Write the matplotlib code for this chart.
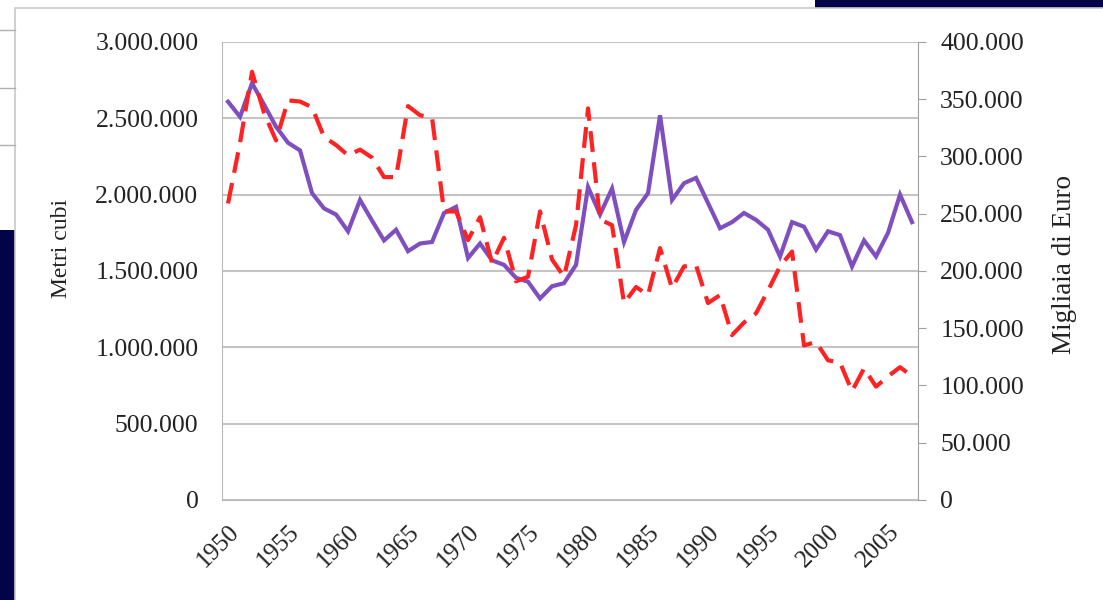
import matplotlib.pyplot as plt
from matplotlib.patches import Rectangle
from matplotlib.ticker import FuncFormatter

# anni 1950-2007
anni = list(range(1950, 2008))

# metri cubi (asse sinistro)
metri_cubi = [
    2609000, 2510000, 2730000, 2590000, 2445000, 2340000, 2290000, 2010000, 1910000, 1870000,
    1760000, 1965000, 1830000, 1700000, 1770000, 1630000, 1680000, 1690000, 1880000, 1920000,
    1585000, 1680000, 1570000, 1540000, 1455000, 1430000, 1320000, 1400000, 1420000, 1540000,
    2050000, 1870000, 2040000, 1690000, 1900000, 2010000, 2520000, 1965000, 2075000, 2110000,
    1945000, 1780000, 1820000, 1880000, 1835000, 1770000, 1595000, 1820000, 1790000, 1640000,
    1760000, 1735000, 1530000, 1700000, 1595000, 1750000, 2000000, 1820000,
]

# migliaia di euro (asse destro)
migliaia_euro = [
    259000, 312000, 374000, 338000, 314000, 349000, 348000, 343000, 317000, 310000,
    301000, 306000, 299000, 282000, 282000, 344000, 336000, 334000, 252000, 252000,
    227000, 247000, 207000, 229000, 191000, 195000, 252000, 210000, 195000, 240000,
    342000, 245000, 240000, 172000, 186000, 179000, 220000, 185000, 204000, 205000,
    172000, 179000, 144000, 155000, 163000, 183000, 204000, 217000, 135000, 138000,
    122000, 120000, 95000, 115000, 99000, 108000, 116000, 108000,
]

etichette_anni = list(range(1950, 2006, 5))


def migliaia(v, pos):
    return f"{int(round(v)):,}".replace(",", ".")


plt.rcParams['font.family'] = ['Liberation Serif', 'DejaVu Serif']

fig = plt.figure(figsize=(11.03, 6.0), dpi=100)
fig.patch.set_facecolor('white')

# sfondo della slide
navy = '#03034a'
fig.patches.append(Rectangle((0, 0), 0.014, 0.617, transform=fig.transFigure,
                             facecolor=navy, edgecolor='none', zorder=0))
fig.patches.append(Rectangle((0.739, 0.985), 0.261, 0.015, transform=fig.transFigure,
                             facecolor=navy, edgecolor='none', zorder=0))
for yy in [0.95, 0.853, 0.758]:
    fig.lines.append(plt.Line2D([0, 0.014], [yy, yy], transform=fig.transFigure,
                                color='#b0b0b0', lw=1))
fig.patches.append(Rectangle((0.014, -0.01), 1.0, 0.997, transform=fig.transFigure,
                             facecolor='white', edgecolor='#c8c8c8', lw=1.2, zorder=1))

ax = fig.add_axes([0.2013, 0.1667, 0.631, 0.7633])
ax.set_zorder(2)
ax2 = ax.twinx()

ax.plot(anni, metri_cubi, color='#7f4fc0', lw=3, solid_joinstyle='miter', zorder=3)
ax2.plot(anni, migliaia_euro, color='#ff2222', lw=3, dashes=(5, 2.5), zorder=3)

ax.set_xlim(1949.5, 2007.5)
ax.set_ylim(0, 3000000)
ax2.set_ylim(0, 400000)
ax.set_yticks(range(0, 3000001, 500000))
ax2.set_yticks(range(0, 400001, 50000))
ax.yaxis.set_major_formatter(FuncFormatter(migliaia))
ax2.yaxis.set_major_formatter(FuncFormatter(migliaia))

ax.set_xticks(etichette_anni)
ax.set_xticklabels([str(a) for a in etichette_anni], rotation=45, ha='right',
                   rotation_mode='anchor', fontsize=18, color='#222222')

ax.grid(axis='y', color='#c4c4c4', lw=1.5)
ax.set_axisbelow(True)

for a in (ax, ax2):
    for s in a.spines.values():
        s.set_visible(False)
ax.spines['left'].set_visible(True)
ax.spines['left'].set_color('#b8b8b8')
ax.spines['bottom'].set_visible(True)
ax.spines['bottom'].set_color('#b8b8b8')
ax2.spines['right'].set_visible(True)
ax2.spines['right'].set_color('#a0a0a0')

ax.tick_params(axis='y', length=0, pad=17, labelsize=18.5, labelcolor='#222222')
ax.tick_params(axis='x', length=0, pad=15)
ax2.tick_params(axis='y', length=6, color='#a0a0a0', pad=10, labelsize=18.5, labelcolor='#222222')

ax.set_ylabel('Metri cubi', fontsize=17, color='#222222', labelpad=17)
ax2.set_ylabel('Migliaia di Euro', fontsize=19.5, color='#222222', labelpad=20)
ax.yaxis.label.set_y(0.55)
ax2.yaxis.label.set_y(0.515)

fig.savefig('out.png', dpi=100)
